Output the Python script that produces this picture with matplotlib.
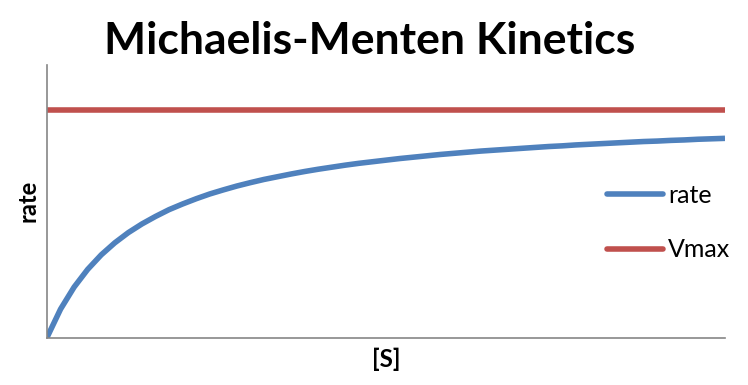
import matplotlib
matplotlib.use("Agg")
import matplotlib.pyplot as plt

plt.rcParams["font.family"] = ["Lato", "DejaVu Sans"]

# substrate concentration and reaction rate
s_conc = list(range(0, 51))
rate = [0.000, 0.125, 0.222, 0.300, 0.364, 0.417, 0.462, 0.500, 0.533, 0.563,
        0.588, 0.611, 0.632, 0.650, 0.667, 0.682, 0.696, 0.708, 0.720, 0.731,
        0.741, 0.750, 0.759, 0.767, 0.774, 0.781, 0.788, 0.794, 0.800, 0.806,
        0.811, 0.816, 0.821, 0.825, 0.829, 0.833, 0.837, 0.841, 0.844, 0.848,
        0.851, 0.854, 0.857, 0.860, 0.863, 0.865, 0.868, 0.870, 0.873, 0.875,
        0.877]
vmax = [1.0] * len(s_conc)

blue = "#4F81BD"
red = "#C0504D"
grey = "#868686"

fig = plt.figure(figsize=(7.48, 3.85), dpi=100)
ax = fig.add_axes([47 / 748, 47.5 / 385, 678 / 748, 272.5 / 385])

ax.plot(s_conc, rate, color=blue, lw=4, label="rate", solid_capstyle="butt")
ax.plot(s_conc, vmax, color=red, lw=4, label="Vmax", solid_capstyle="butt")

ax.set_xlim(0, 50)
ax.set_ylim(0, 1.2)
ax.set_xticks([])
ax.set_yticks([])
for side in ["top", "right"]:
    ax.spines[side].set_visible(False)
for side in ["left", "bottom"]:
    ax.spines[side].set_color(grey)
    ax.spines[side].set_linewidth(1.2)

ax.set_xlabel("[S]", fontsize=17.5, fontweight="bold", va="center")
ax.xaxis.set_label_coords(0.5, -0.08)
ax.set_ylabel("rate", fontsize=17, fontweight="bold", va="center")
ax.yaxis.set_label_coords(-19 / 678, 0.5)

fig.text(370 / 748, (385 - 54) / 385, "Michaelis-Menten Kinetics",
         fontsize=32, fontweight="bold", ha="center", va="baseline")

leg = ax.legend(loc="upper left", bbox_to_anchor=(607 / 748, (385 - 184) / 385),
                bbox_transform=fig.transFigure, frameon=False, fontsize=18,
                handlelength=2.25, handletextpad=0.2, labelspacing=1.25,
                borderpad=0, borderaxespad=0)
for line in leg.get_lines():
    line.set_solid_capstyle("round")

fig.savefig("out.png", dpi=100)
